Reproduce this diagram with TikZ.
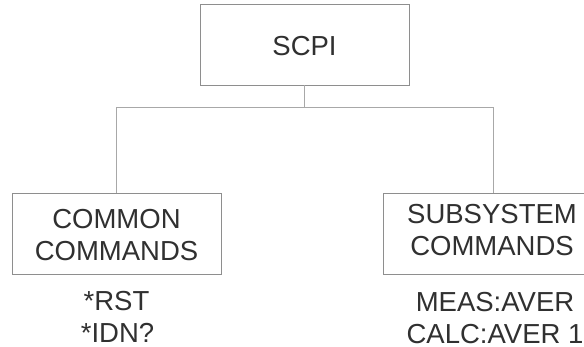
\documentclass[tikz,border=0pt]{standalone}
\usepackage{fontspec}
\setmainfont{Liberation Sans}
\definecolor{boxline}{HTML}{8E8E8E}
\definecolor{wire}{HTML}{A8A8A8}
\definecolor{txt}{HTML}{303030}
\begin{document}
\begin{tikzpicture}[x=1pt,y=-1pt,
  boxnode/.style={draw=boxline, line width=0.9pt, rectangle, inner sep=0pt,
    minimum width=209pt, minimum height=81pt},
  lbl/.style={text=txt, font=\fontsize{27.5}{31}\selectfont, inner sep=0pt, anchor=base},
  wireline/.style={draw=wire, line width=0.9pt}]
\useasboundingbox (0,0) rectangle (584,347);
\clip (0,0) rectangle (584,347);
\fill[white] (0,0) rectangle (584,347);
% boxes
\node[boxnode] (scpi) at (304.5,44.5) {};
\node[boxnode] (common) at (116.5,233.5) {};
\node[boxnode, minimum width=220pt] (subsys) at (493,233.5) {};
% texts
\node[lbl] (scpitxt) at (304.5,56) {SCPI};
\node[lbl] (com1) at (116.5,229) {COMMON};
\node[lbl] (com2) at (116.5,261) {COMMANDS};
\node[lbl] (sub1) at (492,224) {SUBSYSTEM};
\node[lbl] (sub2) at (492,256) {COMMANDS};
\node[lbl] (rst) at (116.5,311) {*RST};
\node[lbl] (idn) at (117.5,343) {*IDN?};
\node[lbl] (meas) at (495,312) {MEAS:AVER};
\node[lbl] (calc) at (495,344) {CALC:AVER 1};
% connectors
\coordinate (bus) at (304.5,107);
\draw[wireline] (scpi.south) -- (bus);
\draw[wireline] (bus) -| (common.north);
\draw[wireline] (bus) -| (subsys.north);
\end{tikzpicture}
\end{document}
